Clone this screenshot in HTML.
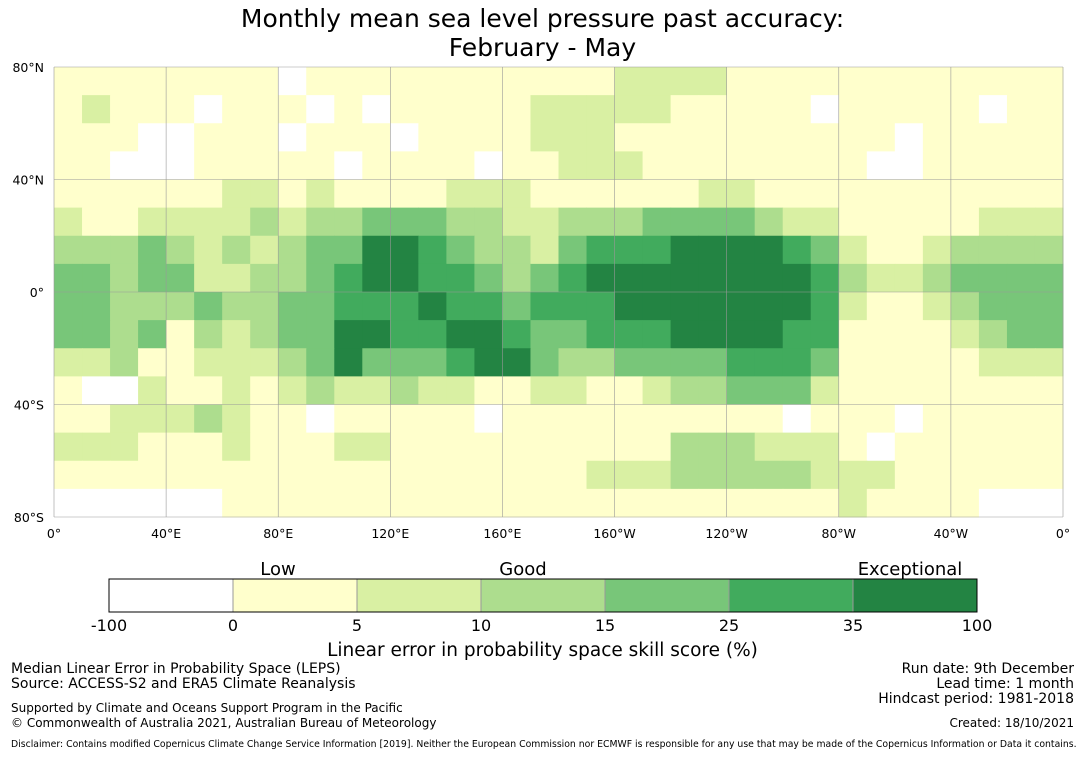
<!DOCTYPE html>
<html><head><meta charset="utf-8">
<style>
body{margin:0;background:#fff;font-family:"DejaVu Sans","Liberation Sans",sans-serif;}
#wrap{position:relative;width:1085px;height:781px;overflow:hidden;}
.t{position:absolute;white-space:nowrap;color:#000;}
</style></head>
<body>
<div id="wrap">
<div class="t" style="left:0;width:1085px;text-align:center;top:4px;font-size:25px;line-height:29px;">Monthly mean sea level pressure past accuracy:<br>February - May</div>
<svg id="map" width="1085" height="781" style="position:absolute;left:0;top:0"></svg>
<div class="t" style="left:0;width:1085px;text-align:center;top:640px;font-size:18.5px;">Linear error in probability space skill score (%)</div>
<div class="t" style="left:11px;top:662px;font-size:14px;line-height:15px;">Median Linear Error in Probability Space (LEPS)<br>Source: ACCESS-S2 and ERA5 Climate Reanalysis</div>
<div class="t" style="left:11px;top:701px;font-size:12px;line-height:15px;">Supported by Climate and Oceans Support Program in the Pacific<br>© Commonwealth of Australia 2021, Australian Bureau of Meteorology</div>
<div class="t" style="right:11px;top:662px;font-size:14px;line-height:15px;text-align:right;">Run date: 9th December<br>Lead time: 1 month<br>Hindcast period: 1981-2018</div>
<div class="t" style="right:11px;top:716px;font-size:12px;">Created: 18/10/2021</div>
<div class="t" style="left:11px;top:739px;font-size:9.3px;">Disclaimer: Contains modified Copernicus Climate Change Service Information [2019]. Neither the European Commission nor ECMWF is responsible for any use that may be made of the Copernicus Information or Data it contains.</div>
</div>
<script>
const colors=["#ffffff","#ffffcc","#d9f0a3","#addd8e","#78c679","#41ab5d","#238443"];
const binLabels=["-100","0","5","10","15","25","35","100"];
const catLabels=["Low","Good","Exceptional"];
const lonTicks=["0°","40°E","80°E","120°E","160°E","160°W","120°W","80°W","40°W","0°"];
const latTicks=["80°N","40°N","0°","40°S","80°S"];
const grid=[
[1,1,1,1,1,1,1,1,0,1,1,1,1,1,1,1,1,1,1,1,2,2,2,2,1,1,1,1,1,1,1,1,1,1,1,1],
[1,2,1,1,1,0,1,1,1,0,1,0,1,1,1,1,1,2,2,2,2,2,1,1,1,1,1,0,1,1,1,1,1,0,1,1],
[1,1,1,0,0,1,1,1,0,1,1,1,0,1,1,1,1,2,2,2,1,1,1,1,1,1,1,1,1,1,0,1,1,1,1,1],
[1,1,0,0,0,1,1,1,1,1,0,1,1,1,1,0,1,1,2,2,2,1,1,1,1,1,1,1,1,0,0,1,1,1,1,1],
[1,1,1,1,1,1,2,2,1,2,1,1,1,1,2,2,2,1,1,1,1,1,1,2,2,1,1,1,1,1,1,1,1,1,1,1],
[2,1,1,2,2,2,2,3,2,3,3,4,4,4,3,3,2,2,3,3,3,4,4,4,4,3,2,2,1,1,1,1,1,2,2,2],
[3,3,3,4,3,2,3,2,3,4,4,6,6,5,4,3,3,2,4,5,5,5,6,6,6,6,5,4,2,1,1,2,3,3,3,3],
[4,4,3,4,4,2,2,3,3,4,5,6,6,5,5,4,3,4,5,6,6,6,6,6,6,6,6,5,3,2,2,3,4,4,4,4],
[4,4,3,3,3,4,3,3,4,4,5,5,5,6,5,5,4,5,5,5,6,6,6,6,6,6,6,5,2,1,1,2,3,4,4,4],
[4,4,3,4,1,3,2,3,4,4,6,6,5,5,6,6,5,4,4,5,5,5,6,6,6,6,5,5,1,1,1,1,2,3,4,4],
[2,2,3,1,1,2,2,2,3,4,6,4,4,4,5,6,6,4,3,3,4,4,4,4,5,5,5,4,1,1,1,1,1,2,2,2],
[1,0,0,2,1,1,2,1,2,3,2,2,3,2,2,1,1,2,2,1,1,2,3,3,4,4,4,2,1,1,1,1,1,1,1,1],
[1,1,2,2,2,3,2,1,1,0,1,1,1,1,1,0,1,1,1,1,1,1,1,1,1,1,0,1,1,1,0,1,1,1,1,1],
[2,2,2,1,1,1,2,1,1,1,2,2,1,1,1,1,1,1,1,1,1,1,3,3,3,2,2,2,1,0,1,1,1,1,1,1],
[1,1,1,1,1,1,1,1,1,1,1,1,1,1,1,1,1,1,1,2,2,2,3,3,3,3,3,2,2,2,1,1,1,1,1,1],
[0,0,0,0,0,0,1,1,1,1,1,1,1,1,1,1,1,1,1,1,1,1,1,1,1,1,1,1,2,1,1,1,1,0,0,0]
];
const X0=54,X1=1063,Y0=67,Y1=517;
const xLon=l=>X0+(X1-X0)*l/360;
const yLat=a=>Y0+(Y1-Y0)*(80-a)/160;
const svg=document.getElementById('map');
const NS="http://www.w3.org/2000/svg";
const FF="DejaVu Sans, Liberation Sans, sans-serif";
function mk(tag,attrs){const e=document.createElementNS(NS,tag);for(const k in attrs)e.setAttribute(k,attrs[k]);svg.appendChild(e);return e;}
grid.forEach((row,r)=>row.forEach((v,c)=>{
  const x=xLon(c*10),y=yLat(80-r*10);
  const e=mk('rect',{x:x,y:y,width:xLon(c*10+10)-x+0.5,height:yLat(70-r*10)-y+0.5,fill:colors[v]});
  
  
}));
for(let i=0;i<=9;i++){const x=xLon(i*40);
  const l=mk('line',{x1:x,x2:x,y1:Y0,y2:Y1,stroke:'#999','stroke-width':0.6});
  
  const t=mk('text',{x:x,y:Y1+21,'font-size':12.5,'text-anchor':'middle','font-family':FF});t.textContent=lonTicks[i];
  }
for(let i=0;i<5;i++){const y=yLat(80-i*40);
  const l=mk('line',{x1:X0,x2:X1,y1:y,y2:y,stroke:'#999','stroke-width':0.6});
  
  const t=mk('text',{x:X0-10,y:y+5,'font-size':12.5,'text-anchor':'end','font-family':FF});t.textContent=latTicks[i];
  }
const CB0=109,CB1=977,CBY=579,CBH=33,seg=(CB1-CB0)/7;
colors.forEach((c,i)=>{const e=mk('rect',{x:CB0+i*seg,y:CBY,width:seg,height:CBH,fill:c,stroke:'#999','stroke-width':1});
  });
mk('rect',{x:CB0,y:CBY,width:CB1-CB0,height:CBH,fill:'none',stroke:'#000','stroke-width':1});
binLabels.forEach((b,i)=>{const t=mk('text',{x:CB0+i*seg,y:CBY+CBH+19,'font-size':16,'text-anchor':'middle','font-family':FF});t.textContent=b;
  });
[[278],[523],[910]].forEach((p,i)=>{const t=mk('text',{x:p[0],y:575,'font-size':18,'text-anchor':'middle','font-family':FF});t.textContent=catLabels[i];
  });
</script>
</body></html>
